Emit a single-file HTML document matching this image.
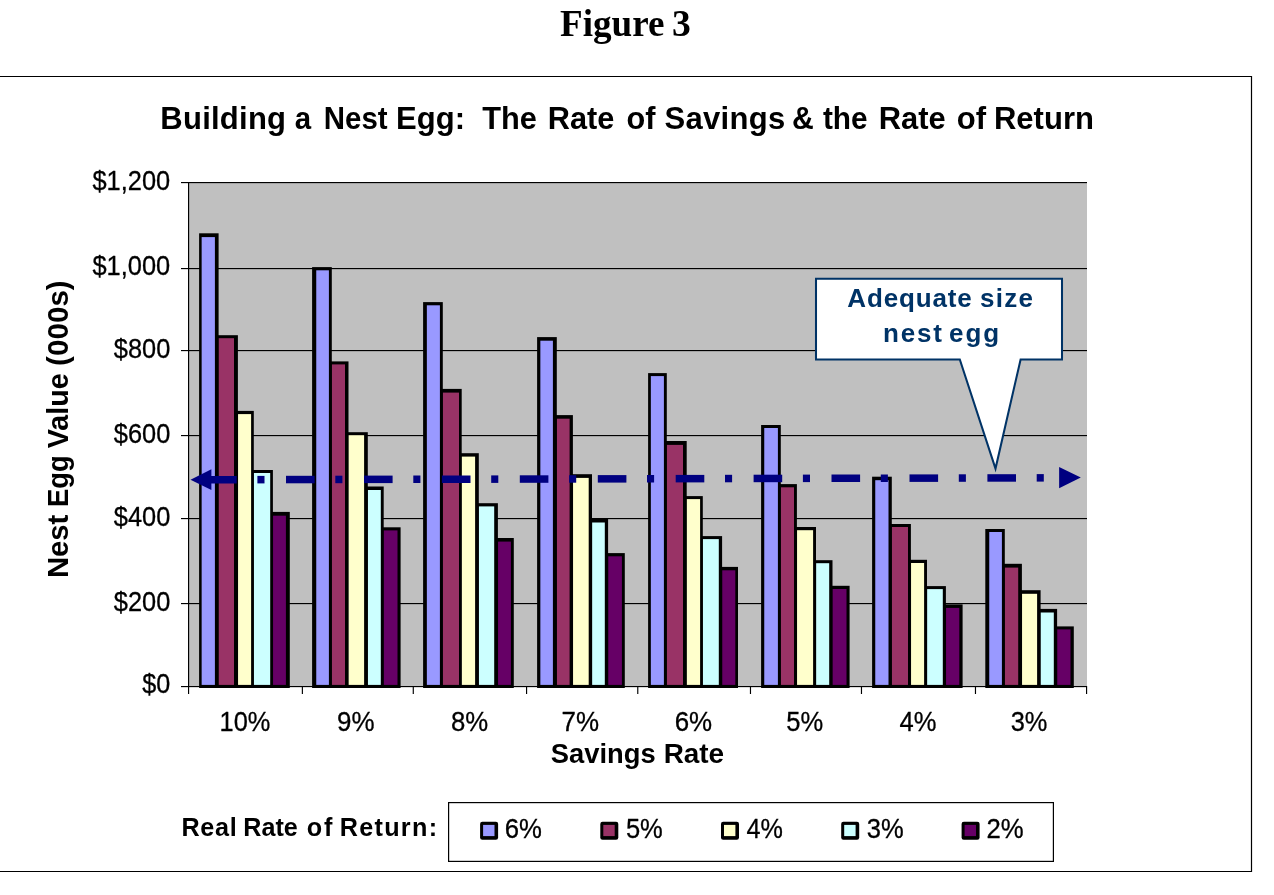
<!DOCTYPE html>
<html lang="en"><head><meta charset="utf-8"><title>Figure 3</title>
<style>
html,body{margin:0;padding:0;background:#fff;}
body{width:1274px;height:895px;overflow:hidden;position:relative;}
svg{display:block;position:absolute;left:0;top:0;}
text{font-family:"Liberation Sans",Arial,sans-serif;fill:#000;}
.b{font-weight:bold;}
.t{stroke:#000;stroke-width:0.3px;stroke-linejoin:round;}
.serif{font-family:"Liberation Serif","Times New Roman",serif;font-weight:bold;}
.n{fill:#003366;}
</style></head><body>
<svg width="1274" height="895" viewBox="0 0 1274 895">
<rect x="0" y="0" width="1274" height="895" fill="#fff"/>
<text class="serif" y="35.90" font-size="38" xml:space="preserve"><tspan x="560.06" textLength="104.45" lengthAdjust="spacingAndGlyphs">Figure</tspan> <tspan x="672.09" textLength="18.84" lengthAdjust="spacingAndGlyphs">3</tspan></text>
<path d="M0 76.5H1251.5V871.5H0" fill="none" stroke="#000" stroke-width="1.2"/>
<text class="b" y="129.00" font-size="31" xml:space="preserve"><tspan x="160.33" letter-spacing="0.249">Building</tspan> <tspan x="294.82" textLength="16.37" lengthAdjust="spacingAndGlyphs">a</tspan> <tspan x="323.84" textLength="63.78" lengthAdjust="spacingAndGlyphs">Nest</tspan> <tspan x="396.03" letter-spacing="0.083">Egg:</tspan>  <tspan x="482.29" textLength="54.68" lengthAdjust="spacingAndGlyphs">The</tspan> <tspan x="547.75" textLength="66.60" lengthAdjust="spacingAndGlyphs">Rate</tspan> <tspan x="626.57" textLength="28.95" lengthAdjust="spacingAndGlyphs">of</tspan> <tspan x="664.57" letter-spacing="0.290">Savings</tspan> <tspan x="791.89" textLength="21.78" lengthAdjust="spacingAndGlyphs">&amp;</tspan> <tspan x="822.90" textLength="44.69" lengthAdjust="spacingAndGlyphs">the</tspan> <tspan x="878.84" textLength="66.92" lengthAdjust="spacingAndGlyphs">Rate</tspan> <tspan x="956.66" letter-spacing="0.200">of</tspan> <tspan x="993.93" letter-spacing="0.022">Return</tspan></text>
<rect x="189" y="183" width="898" height="503" fill="#c0c0c0"/>
<rect x="181" y="182" width="906" height="1.15" fill="#000"/>
<rect x="181" y="268" width="906" height="1.15" fill="#000"/>
<rect x="181" y="350" width="906" height="1.15" fill="#000"/>
<rect x="181" y="435" width="906" height="1.15" fill="#000"/>
<rect x="181" y="518" width="906" height="1.15" fill="#000"/>
<rect x="181" y="603" width="906" height="1.15" fill="#000"/>
<rect x="188" y="182" width="1.15" height="512" fill="#000"/>
<rect x="181" y="686" width="906" height="1.15" fill="#000"/>
<rect x="301.8" y="686" width="1.15" height="8" fill="#000"/>
<rect x="412.7" y="686" width="1.15" height="8" fill="#000"/>
<rect x="526" y="686" width="1.15" height="8" fill="#000"/>
<rect x="637.2" y="686" width="1.15" height="8" fill="#000"/>
<rect x="749.9" y="686" width="1.15" height="8" fill="#000"/>
<rect x="860.9" y="686" width="1.15" height="8" fill="#000"/>
<rect x="974.9" y="686" width="1.15" height="8" fill="#000"/>
<rect x="1086" y="686" width="1.15" height="8" fill="#000"/>
<rect x="199.1" y="233.3" width="19.5" height="454.7" fill="#000"/>
<rect x="215.2" y="335.2" width="22.7" height="352.8" fill="#000"/>
<rect x="234.3" y="410.9" width="19.5" height="277.1" fill="#000"/>
<rect x="251.4" y="470.0" width="21.5" height="218.0" fill="#000"/>
<rect x="270.5" y="511.9" width="19.3" height="176.1" fill="#000"/>
<rect x="201.65" y="237.1" width="13.25" height="447.8" fill="#9999ff"/>
<rect x="218.75" y="338.2" width="15.25" height="346.7" fill="#993366"/>
<rect x="238.05" y="414.1" width="13.05" height="270.8" fill="#ffffcc"/>
<rect x="253.95" y="473.0" width="16.25" height="211.9" fill="#ccffff"/>
<rect x="273.05" y="515.7" width="12.85" height="169.2" fill="#660066"/>
<rect x="312.1" y="267.1" width="19.7" height="420.9" fill="#000"/>
<rect x="329.2" y="361.4" width="19.3" height="326.6" fill="#000"/>
<rect x="345.3" y="432.2" width="22.5" height="255.8" fill="#000"/>
<rect x="364.4" y="486.5" width="19.3" height="201.5" fill="#000"/>
<rect x="381.1" y="527.3" width="19.5" height="160.7" fill="#000"/>
<rect x="316.25" y="270.3" width="12.65" height="414.6" fill="#9999ff"/>
<rect x="331.95" y="364.4" width="13.05" height="320.5" fill="#993366"/>
<rect x="348.65" y="435.2" width="15.45" height="249.7" fill="#ffffcc"/>
<rect x="367.95" y="490.0" width="12.85" height="194.9" fill="#ccffff"/>
<rect x="383.85" y="530.4" width="13.65" height="154.5" fill="#660066"/>
<rect x="423.1" y="302.1" width="19.7" height="385.9" fill="#000"/>
<rect x="440.2" y="388.9" width="21.5" height="299.1" fill="#000"/>
<rect x="459.3" y="453.2" width="19.5" height="234.8" fill="#000"/>
<rect x="475.4" y="503.2" width="22.5" height="184.8" fill="#000"/>
<rect x="494.5" y="538.0" width="19.3" height="150.0" fill="#000"/>
<rect x="426.85" y="305.3" width="13.05" height="379.6" fill="#9999ff"/>
<rect x="442.95" y="392.6" width="16.05" height="292.3" fill="#993366"/>
<rect x="461.85" y="456.6" width="13.25" height="228.3" fill="#ffffcc"/>
<rect x="478.95" y="506.4" width="15.25" height="178.5" fill="#ccffff"/>
<rect x="498.05" y="541.6" width="12.85" height="143.3" fill="#660066"/>
<rect x="537.1" y="337.1" width="19.7" height="350.9" fill="#000"/>
<rect x="553.2" y="415.1" width="19.7" height="272.9" fill="#000"/>
<rect x="569.9" y="474.2" width="22.1" height="213.8" fill="#000"/>
<rect x="589.0" y="518.5" width="19.1" height="169.5" fill="#000"/>
<rect x="605.1" y="553.1" width="19.7" height="134.9" fill="#000"/>
<rect x="540.35" y="340.7" width="12.55" height="344.2" fill="#9999ff"/>
<rect x="556.95" y="418.7" width="12.65" height="266.2" fill="#993366"/>
<rect x="573.05" y="477.9" width="15.65" height="207.0" fill="#ffffcc"/>
<rect x="592.15" y="522.5" width="12.65" height="162.4" fill="#ccffff"/>
<rect x="608.25" y="556.3" width="13.65" height="128.6" fill="#660066"/>
<rect x="648.1" y="373.1" width="18.7" height="314.9" fill="#000"/>
<rect x="664.2" y="441.0" width="22.5" height="247.0" fill="#000"/>
<rect x="683.3" y="496.1" width="19.5" height="191.9" fill="#000"/>
<rect x="700.4" y="536.1" width="21.7" height="151.9" fill="#000"/>
<rect x="719.1" y="566.9" width="18.9" height="121.1" fill="#000"/>
<rect x="650.85" y="376.1" width="13.05" height="308.8" fill="#9999ff"/>
<rect x="666.95" y="444.9" width="16.05" height="240.0" fill="#993366"/>
<rect x="686.85" y="499.1" width="13.25" height="185.8" fill="#ffffcc"/>
<rect x="702.95" y="539.1" width="15.85" height="145.8" fill="#ccffff"/>
<rect x="722.25" y="570.3" width="13.05" height="114.6" fill="#660066"/>
<rect x="761.1" y="425.0" width="19.7" height="263.0" fill="#000"/>
<rect x="778.2" y="484.1" width="18.7" height="203.9" fill="#000"/>
<rect x="794.3" y="527.0" width="21.7" height="161.0" fill="#000"/>
<rect x="813.4" y="560.2" width="19.1" height="127.8" fill="#000"/>
<rect x="829.5" y="585.8" width="20.1" height="102.2" fill="#000"/>
<rect x="764.25" y="428.0" width="13.65" height="256.9" fill="#9999ff"/>
<rect x="780.95" y="487.3" width="13.05" height="197.6" fill="#993366"/>
<rect x="797.05" y="530.2" width="16.05" height="154.7" fill="#ffffcc"/>
<rect x="816.15" y="563.2" width="13.05" height="121.7" fill="#ccffff"/>
<rect x="832.65" y="589.0" width="13.85" height="95.9" fill="#660066"/>
<rect x="872.1" y="476.7" width="19.7" height="211.3" fill="#000"/>
<rect x="888.8" y="524.0" width="22.1" height="164.0" fill="#000"/>
<rect x="908.3" y="559.8" width="18.7" height="128.2" fill="#000"/>
<rect x="924.4" y="586.1" width="21.5" height="101.9" fill="#000"/>
<rect x="943.1" y="604.4" width="19.5" height="83.6" fill="#000"/>
<rect x="875.25" y="480.2" width="13.25" height="204.7" fill="#9999ff"/>
<rect x="891.95" y="527.0" width="16.05" height="157.9" fill="#993366"/>
<rect x="911.05" y="563.0" width="13.05" height="121.9" fill="#ffffcc"/>
<rect x="927.15" y="589.1" width="15.65" height="95.8" fill="#ccffff"/>
<rect x="946.05" y="607.9" width="13.25" height="77.0" fill="#660066"/>
<rect x="985.3" y="529.0" width="19.5" height="159.0" fill="#000"/>
<rect x="1002.2" y="563.8" width="19.7" height="124.2" fill="#000"/>
<rect x="1018.5" y="590.2" width="22.1" height="97.8" fill="#000"/>
<rect x="1037.4" y="608.9" width="19.7" height="79.1" fill="#000"/>
<rect x="1054.1" y="626.4" width="19.7" height="61.6" fill="#000"/>
<rect x="989.25" y="532.0" width="12.65" height="152.9" fill="#9999ff"/>
<rect x="1004.95" y="567.6" width="13.25" height="117.3" fill="#993366"/>
<rect x="1022.05" y="593.8" width="15.05" height="91.1" fill="#ffffcc"/>
<rect x="1040.75" y="612.5" width="13.05" height="72.4" fill="#ccffff"/>
<rect x="1057.25" y="629.4" width="13.25" height="55.5" fill="#660066"/>
<text class="t" y="189.90" font-size="27.2" xml:space="preserve"><tspan x="92.45" textLength="77.74" lengthAdjust="spacingAndGlyphs">$1,200</tspan></text>
<text class="t" y="275.10" font-size="27.2" xml:space="preserve"><tspan x="92.45" textLength="77.74" lengthAdjust="spacingAndGlyphs">$1,000</tspan></text>
<text class="t" y="357.70" font-size="27.2" xml:space="preserve"><tspan x="113.85" textLength="56.49" lengthAdjust="spacingAndGlyphs">$800</tspan></text>
<text class="t" y="443.10" font-size="27.2" xml:space="preserve"><tspan x="113.85" textLength="56.49" lengthAdjust="spacingAndGlyphs">$600</tspan></text>
<text class="t" y="526.00" font-size="27.2" xml:space="preserve"><tspan x="113.85" textLength="56.49" lengthAdjust="spacingAndGlyphs">$400</tspan></text>
<text class="t" y="611.00" font-size="27.2" xml:space="preserve"><tspan x="113.85" textLength="56.49" lengthAdjust="spacingAndGlyphs">$200</tspan></text>
<text class="t" y="693.10" font-size="27.2" xml:space="preserve"><tspan x="142.25" textLength="28.02" lengthAdjust="spacingAndGlyphs">$0</tspan></text>
<text class="t" y="731.00" font-size="27.2" xml:space="preserve"><tspan x="219.57" textLength="50.73" lengthAdjust="spacingAndGlyphs">10%</tspan></text>
<text class="t" y="731.00" font-size="27.2" xml:space="preserve"><tspan x="337.10" textLength="37.51" lengthAdjust="spacingAndGlyphs">9%</tspan></text>
<text class="t" y="731.00" font-size="27.2" xml:space="preserve"><tspan x="450.97" textLength="37.24" lengthAdjust="spacingAndGlyphs">8%</tspan></text>
<text class="t" y="731.00" font-size="27.2" xml:space="preserve"><tspan x="561.60" textLength="37.51" lengthAdjust="spacingAndGlyphs">7%</tspan></text>
<text class="t" y="731.00" font-size="27.2" xml:space="preserve"><tspan x="674.70" textLength="37.51" lengthAdjust="spacingAndGlyphs">6%</tspan></text>
<text class="t" y="731.00" font-size="27.2" xml:space="preserve"><tspan x="786.18" textLength="36.92" lengthAdjust="spacingAndGlyphs">5%</tspan></text>
<text class="t" y="731.00" font-size="27.2" xml:space="preserve"><tspan x="899.59" textLength="36.91" lengthAdjust="spacingAndGlyphs">4%</tspan></text>
<text class="t" y="731.00" font-size="27.2" xml:space="preserve"><tspan x="1010.68" textLength="36.71" lengthAdjust="spacingAndGlyphs">3%</tspan></text>
<text class="b" y="762.70" font-size="28.4" xml:space="preserve"><tspan x="550.78" textLength="104.85" lengthAdjust="spacingAndGlyphs">Savings</tspan> <tspan x="663.65" textLength="60.50" lengthAdjust="spacingAndGlyphs">Rate</tspan></text>
<g transform="translate(68.4 576.05) rotate(-90)">
<text class="b" y="0.00" font-size="29.5" xml:space="preserve"><tspan x="-2.05" textLength="63.42" lengthAdjust="spacingAndGlyphs">Nest</tspan> <tspan x="69.03" textLength="51.70" lengthAdjust="spacingAndGlyphs">Egg</tspan> <tspan x="127.86" textLength="74.93" lengthAdjust="spacingAndGlyphs">Value</tspan> <tspan x="210.18" letter-spacing="0.059">(000s)</tspan></text>
</g>
<g fill="#000080">
<rect x="208.1" y="476.0" width="28.6" height="7.5"/>
<rect x="257.4" y="475.9" width="7.1" height="7.5"/>
<rect x="286.0" y="475.8" width="28.6" height="7.5"/>
<rect x="335.3" y="475.7" width="7.1" height="7.5"/>
<rect x="364.0" y="475.6" width="28.6" height="7.5"/>
<rect x="413.3" y="475.5" width="7.1" height="7.5"/>
<rect x="441.9" y="475.5" width="28.6" height="7.5"/>
<rect x="491.2" y="475.4" width="7.1" height="7.5"/>
<rect x="519.8" y="475.3" width="28.6" height="7.5"/>
<rect x="569.1" y="475.2" width="7.1" height="7.5"/>
<rect x="597.8" y="475.1" width="28.6" height="7.5"/>
<rect x="647.0" y="475.0" width="7.1" height="7.5"/>
<rect x="675.7" y="474.9" width="28.6" height="7.5"/>
<rect x="725.0" y="474.8" width="7.1" height="7.5"/>
<rect x="753.6" y="474.7" width="28.6" height="7.5"/>
<rect x="802.9" y="474.6" width="7.1" height="7.5"/>
<rect x="831.5" y="474.5" width="28.6" height="7.5"/>
<rect x="880.8" y="474.5" width="7.1" height="7.5"/>
<rect x="909.5" y="474.4" width="28.6" height="7.5"/>
<rect x="958.8" y="474.3" width="7.1" height="7.5"/>
<rect x="987.4" y="474.2" width="28.6" height="7.5"/>
<rect x="1036.7" y="474.1" width="7.1" height="7.5"/>
<path d="M190.5 479.7L211.4 469.3V490.1Z"/>
<path d="M1080.8 477.6L1059.1 467.1V488.2Z"/>
</g>
<path d="M816 278.8H1062V359.5H1020.6L995.5 468.6L959.8 359.5H816Z" fill="#fff" stroke="#003366" stroke-width="2.05" stroke-linejoin="miter"/>
<text class="b n" y="306.90" font-size="26" xml:space="preserve"><tspan x="847.32" letter-spacing="0.851">Adequate</tspan> <tspan x="980.06" letter-spacing="1.227">size</tspan></text>
<text class="b n" y="341.80" font-size="26" xml:space="preserve"><tspan x="883.08" letter-spacing="1.760">nest</tspan> <tspan x="948.96" letter-spacing="1.990">egg</tspan></text>
<text class="b" y="835.80" font-size="25.2" xml:space="preserve"><tspan x="181.54" letter-spacing="0.652">Real</tspan> <tspan x="243.34" textLength="54.50" lengthAdjust="spacingAndGlyphs">Rate</tspan> <tspan x="306.79" letter-spacing="1.720">of</tspan> <tspan x="339.64" letter-spacing="1.312">Return:</tspan></text>
<rect x="448.6" y="802.6" width="604.8" height="58.8" fill="#fff" stroke="#000" stroke-width="1.2"/>
<rect x="480.1" y="821.8" width="18" height="18" rx="2.2" fill="#000"/>
<rect x="483.1" y="824.9" width="11.4" height="11.2" fill="#9999ff"/>
<text class="t" y="838.00" font-size="27" xml:space="preserve"><tspan x="504.81" textLength="37.20" lengthAdjust="spacingAndGlyphs">6%</tspan></text>
<rect x="600.3" y="821.8" width="18" height="18" rx="2.2" fill="#000"/>
<rect x="603.3" y="824.9" width="11.4" height="11.2" fill="#993366"/>
<text class="t" y="838.00" font-size="27" xml:space="preserve"><tspan x="625.88" textLength="36.92" lengthAdjust="spacingAndGlyphs">5%</tspan></text>
<rect x="721.0" y="821.8" width="18" height="18" rx="2.2" fill="#000"/>
<rect x="724.0" y="824.9" width="11.4" height="11.2" fill="#ffffcc"/>
<text class="t" y="838.00" font-size="27" xml:space="preserve"><tspan x="746.50" textLength="36.39" lengthAdjust="spacingAndGlyphs">4%</tspan></text>
<rect x="841.2" y="821.8" width="18" height="18" rx="2.2" fill="#000"/>
<rect x="844.2" y="824.9" width="11.4" height="11.2" fill="#ccffff"/>
<text class="t" y="838.00" font-size="27" xml:space="preserve"><tspan x="866.78" textLength="36.92" lengthAdjust="spacingAndGlyphs">3%</tspan></text>
<rect x="961.6" y="821.8" width="18" height="18" rx="2.2" fill="#000"/>
<rect x="964.6" y="824.9" width="11.4" height="11.2" fill="#660066"/>
<text class="t" y="838.00" font-size="27" xml:space="preserve"><tspan x="986.51" textLength="37.20" lengthAdjust="spacingAndGlyphs">2%</tspan></text>
</svg>
</body></html>
